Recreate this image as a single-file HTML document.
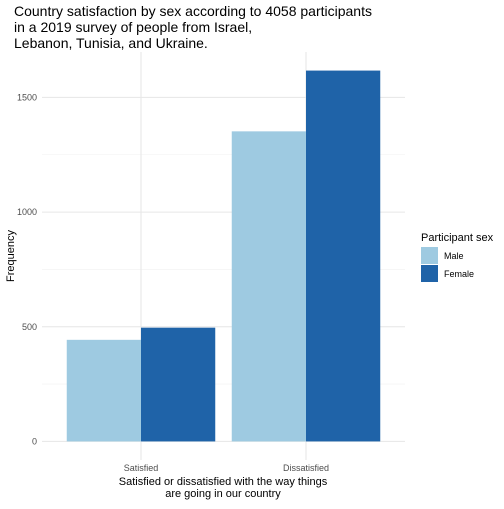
<!DOCTYPE html>
<html><head><meta charset="utf-8"><style>
body{margin:0;background:#fff}
svg text{font-family:"Liberation Sans",sans-serif}
</style></head><body>
<svg id="c" width="504" height="504" xmlns="http://www.w3.org/2000/svg">
<rect width="504" height="504" fill="#fff"/>
<g id="grid"></g><g id="bars"></g><g id="axes"></g>
<text x="14" y="16" font-size="14" fill="#000">Country satisfaction by sex according to 4058 participants</text>
<text x="14" y="32" font-size="14" fill="#000">in a 2019 survey of people from Israel,</text>
<text x="14" y="48" font-size="14" fill="#000">Lebanon, Tunisia, and Ukraine.</text>
<text x="223" y="485" font-size="11" text-anchor="middle">Satisfied or dissatisfied with the way things</text>
<text x="223" y="497" font-size="11" text-anchor="middle">are going in our country</text>
<text transform="translate(14,256) rotate(-90)" font-size="11" text-anchor="middle">Frequency</text>
<g>
<text x="421" y="241" font-size="11">Participant sex</text>
<rect x="421" y="247" width="17" height="17" fill="#9ECAE1"/>
<text x="444" y="259" font-size="9">Male</text>
<rect x="421" y="265" width="17" height="17" fill="#1F63A8"/>
<text x="444" y="277" font-size="9">Female</text>
</g>
</svg>
<script>
const categories=["Satisfied","Dissatisfied"];
const maleValues=[443,1352];
const femaleValues=[496,1617];
const yTicks=[0,500,1000,1500];
const yMinor=[250,750,1250];
const ns="http://www.w3.org/2000/svg";
const L=42,R=405,T=52,B=460;
const yMin=-81,yMax=1698;
const y=v=>B-(v-yMin)/(yMax-yMin)*(B-T);
const x=v=>L+(v-0.4)/(2.2)*(R-L);
function mk(t,a,p){const e=document.createElementNS(ns,t);for(const k in a)e.setAttribute(k,a[k]);p.appendChild(e);return e;}
const g=document.getElementById('grid'),b=document.getElementById('bars'),ax=document.getElementById('axes');
yMinor.forEach(v=>{const l=mk('line',{x1:L,x2:R,y1:y(v),y2:y(v),stroke:'#f0f0f0','stroke-width':0.6},g);

});
yTicks.forEach(v=>{const l=mk('line',{x1:L,x2:R,y1:y(v),y2:y(v),stroke:'#e6e6e6','stroke-width':1},g);


const t=mk('text',{x:37,y:y(v)+3,'font-size':9,fill:'#4d4d4d','text-anchor':'end'},ax);t.textContent=v;

});
categories.forEach((c,i)=>{const cx=x(i+1);
const l=mk('line',{x1:cx,x2:cx,y1:T,y2:B,stroke:'#e6e6e6','stroke-width':1},g);


const w=x(0.45)-x(0);
const m=mk('rect',{x:cx-w,y:y(maleValues[i]),width:w,height:y(0)-y(maleValues[i]),fill:'#9ECAE1'},b);


const f=mk('rect',{x:cx,y:y(femaleValues[i]),width:w,height:y(0)-y(femaleValues[i]),fill:'#1F63A8'},b);


const t=mk('text',{x:cx,y:471,'font-size':9,fill:'#4d4d4d','text-anchor':'middle'},ax);t.textContent=c;

});
</script>
</body></html>
